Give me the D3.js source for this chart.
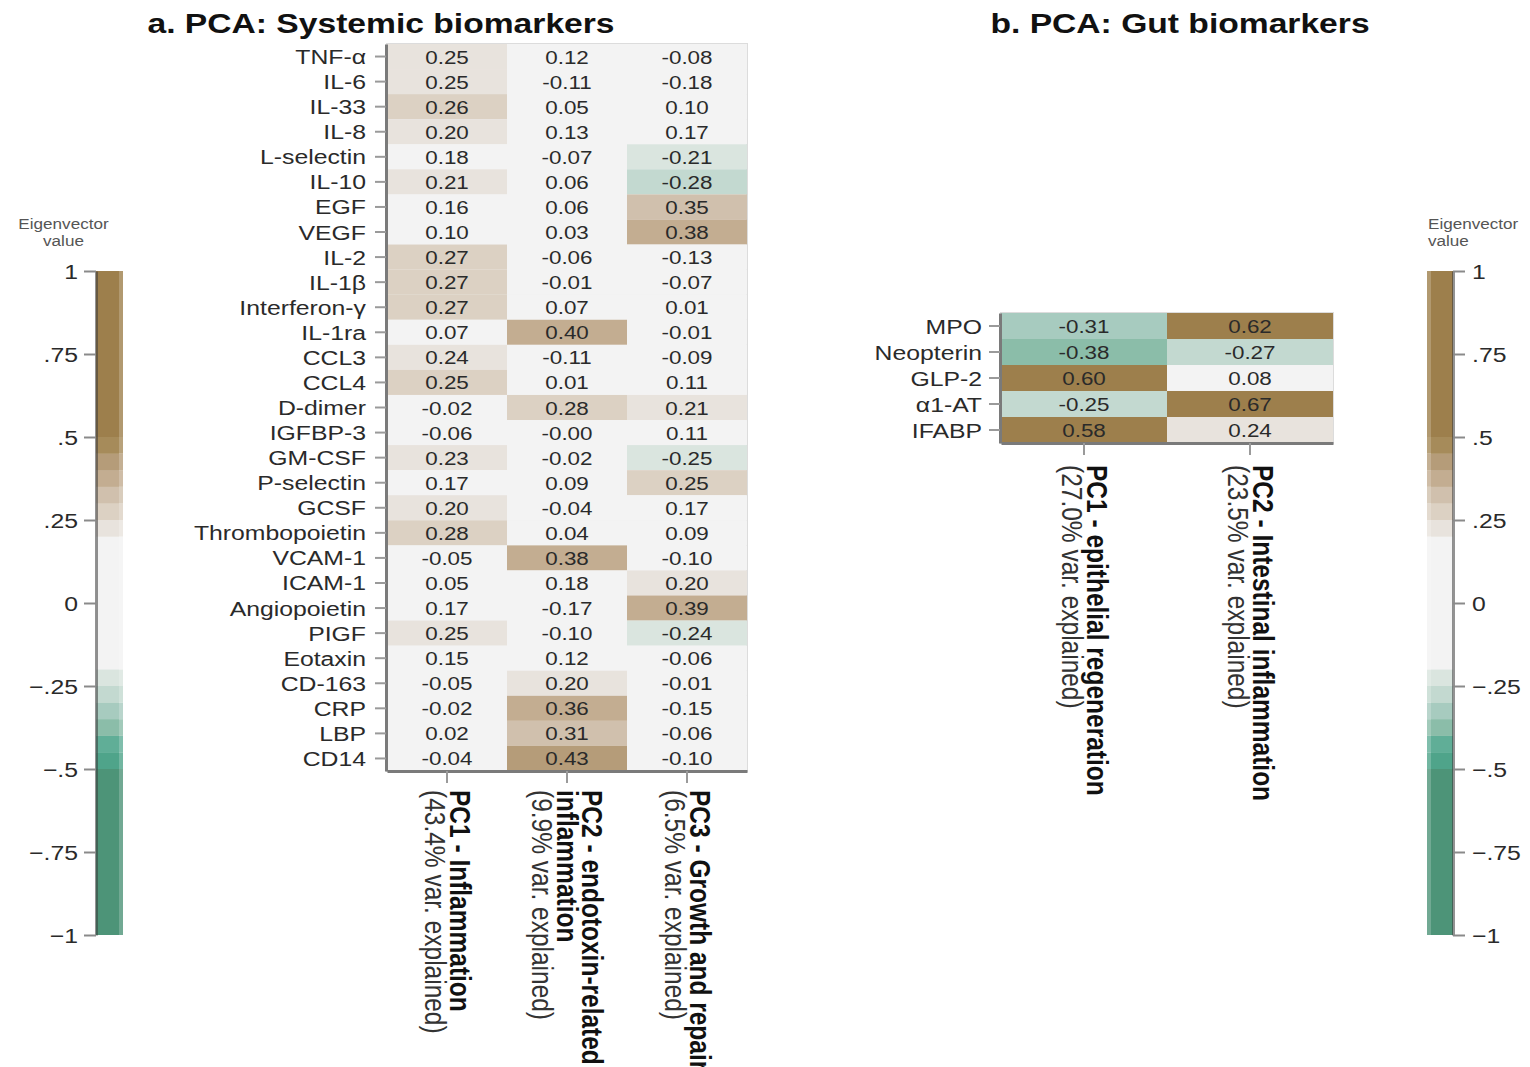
<!DOCTYPE html>
<html>
<head>
<meta charset="utf-8">
<script src="https://cdn.jsdelivr.net/npm/d3@7"></script>
<style>
  body { margin: 0; background: #fff; }
  text { font-family: "Liberation Sans", Arial, Helvetica, sans-serif; }
</style>
</head>
<body>
<svg id="chart" width="1530" height="1067"></svg>
<script>
// ---- Systemic biomarkers: PCA eigenvector loadings ----
const systemicMarkers = [
  "TNF-α", "IL-6", "IL-33", "IL-8", "L-selectin", "IL-10", "EGF", "VEGF",
  "IL-2", "IL-1β", "Interferon-γ", "IL-1ra", "CCL3", "CCL4", "D-dimer",
  "IGFBP-3", "GM-CSF", "P-selectin", "GCSF", "Thrombopoietin", "VCAM-1",
  "ICAM-1", "Angiopoietin", "PIGF", "Eotaxin", "CD-163", "CRP", "LBP", "CD14"
];
const systemicPC1 = [
  0.248, 0.247, 0.26, 0.20, 0.18, 0.21, 0.16, 0.10,
  0.27, 0.27, 0.27, 0.07, 0.24, 0.252, -0.02,
  -0.06, 0.23, 0.17, 0.20, 0.28, -0.05,
  0.05, 0.17, 0.246, 0.15, -0.05, -0.02, 0.02, -0.04
];
const systemicPC2 = [
  0.12, -0.11, 0.05, 0.13, -0.07, 0.06, 0.06, 0.03,
  -0.06, -0.01, 0.07, 0.398, -0.11, 0.01, 0.28,
  -0.001, -0.02, 0.09, -0.04, 0.04, 0.38,
  0.18, -0.17, -0.10, 0.12, 0.20, 0.36, 0.31, 0.43
];
const systemicPC3 = [
  -0.08, -0.18, 0.10, 0.17, -0.21, -0.28, 0.348, 0.38,
  -0.13, -0.07, 0.01, -0.01, -0.09, 0.11, 0.21,
  0.11, -0.25, 0.25, 0.17, 0.09, -0.10,
  0.20, 0.39, -0.24, -0.06, -0.01, -0.15, -0.06, -0.10
];
const systemicComponents = ["PC1", "PC2", "PC3"];
const systemicComponentLabels = [
  [["PC1 - Inflammation", true], ["(43.4% var. explained)", false]],
  [["PC2 - endotoxin-related", true], ["inflammation", true], ["(9.9% var. explained)", false]],
  [["PC3 - Growth and repair", true], ["(6.5% var. explained)", false]]
];

// ---- Gut biomarkers: PCA eigenvector loadings ----
const gutMarkers = ["MPO", "Neopterin", "GLP-2", "α1-AT", "IFABP"];
const gutPC1 = [-0.31, -0.38, 0.60, -0.252, 0.58];
const gutPC2 = [0.62, -0.27, 0.08, 0.67, 0.24];
const gutComponents = ["PC1", "PC2"];
const gutComponentLabels = [
  [["PC1 - epithelial regeneration", true], ["(27.0% var. explained)", false]],
  [["PC2 - Intestinal inflammation", true], ["(23.5% var. explained)", false]]
];

// ---- Colour key ----
const binEdges = [-0.5, -0.45, -0.4, -0.35, -0.3, -0.25, -0.2, 0.2, 0.25, 0.3, 0.35, 0.4, 0.45, 0.5];
const binColors = [
  "#4d9478", "#4fa48a", "#60ae97", "#8bbda9", "#a7cbbf", "#c3d9d0", "#dae5df",
  "#f3f3f3",
  "#e8e3dd", "#dcd1c3", "#d0c0ad", "#c3ad91", "#b59c79", "#a68b5a", "#9d7f4c"
];
const keyTicks = [-1, -0.75, -0.5, -0.25, 0, 0.25, 0.5, 0.75, 1];

const SX = 1.18; // horizontal glyph stretch used for all text
const svg = d3.select("#chart");
svg.append("rect").attr("width", 1530).attr("height", 1067).attr("fill", "#fff");

const color = d3.scaleThreshold().domain(binEdges).range(binColors);
const fmtVal = v => (v < 0 ? "-" : "") + Math.abs(v).toFixed(2);
const fmtKey = v => {
  if (v === 0) return "0";
  const s = String(Math.abs(v)).replace(/^0/, "");
  return (v < 0 ? "\u2212" : "") + s;
};

function label(parent, str, x, y, size, opts = {}) {
  return parent.append("text")
    .attr("transform", `translate(${x},${y}) scale(${SX},1)`)
    .attr("text-anchor", opts.anchor || "middle")
    .attr("font-size", size)
    .attr("font-weight", opts.bold ? "bold" : "normal")
    .attr("fill", opts.fill || "#222")
    .text(str);
}

function heatmap(cfg) {
  const { markers, comps, values, labels, x0, x1, y0, y1, labelOffset, textTop } = cfg;
  const x = d3.scaleBand().domain(comps).range([x0, x1]);
  const y = d3.scaleBand().domain(markers).range([y0, y1]);
  const g = svg.append("g");

  g.append("rect")
    .attr("x", x0).attr("y", y0).attr("width", x1 - x0).attr("height", y1 - y0)
    .attr("fill", "#f3f3f3").attr("stroke", "#dcdcdc").attr("stroke-width", 2);

  const cells = [];
  comps.forEach((c, ci) => markers.forEach((m, mi) => cells.push({ m, c, v: values[ci][mi] })));

  g.selectAll("rect.cell").data(cells).join("rect")
    .attr("class", "cell")
    .attr("x", d => x(d.c)).attr("y", d => y(d.m))
    .attr("width", x.bandwidth()).attr("height", y.bandwidth())
    .attr("fill", d => color(d.v));

  g.selectAll("text.val").data(cells).join("text")
    .attr("class", "val")
    .attr("transform", d => `translate(${x(d.c) + x.bandwidth() / 2},${y(d.m) + y.bandwidth() / 2 + 7}) scale(${SX},1)`)
    .attr("text-anchor", "middle")
    .attr("font-size", 19)
    .attr("fill", "#2a2a2a")
    .text(d => fmtVal(d.v));

  // y axis with marker names
  const ya = g.append("g")
    .attr("transform", `translate(${x0 - 1},0)`)
    .call(d3.axisLeft(y).tickSize(11).tickSizeOuter(0));
  ya.select(".domain").attr("stroke", "#7a7a7a").attr("stroke-width", 3);
  ya.selectAll(".tick line").attr("stroke", "#9a9a9a").attr("stroke-width", 2);
  ya.selectAll(".tick text")
    .attr("x", null).attr("dy", null)
    .attr("transform", `translate(${-labelOffset},7.5) scale(${SX},1)`)
    .attr("font-size", 21).attr("fill", "#2a2a2a");

  // x axis with rotated component names
  const xa = g.append("g")
    .attr("transform", `translate(0,${y1})`)
    .call(d3.axisBottom(x).tickSize(12).tickSizeOuter(0).tickFormat(""));
  xa.select(".domain").attr("stroke", "#7a7a7a").attr("stroke-width", 3);
  xa.selectAll(".tick line").attr("stroke", "#9a9a9a").attr("stroke-width", 2);

  comps.forEach((c, ci) => {
    const lines = labels[ci];
    const cx = x(c) + x.bandwidth() / 2;
    const n = lines.length;
    lines.forEach(([t, bold], i) => {
      const bodyX = cx + ((n - 1) / 2 - i) * 25;
      g.append("text")
        .attr("transform", `translate(${bodyX - 10},${textTop}) rotate(90) scale(1,${SX})`)
        .attr("text-anchor", "start")
        .attr("font-size", 24.5)
        .attr("font-weight", bold ? "bold" : "normal")
        .attr("fill", bold ? "#111" : "#333")
        .text(t);
    });
  });
}

function colorKey(cfg) {
  const { barX0, barX1, side } = cfg;
  const k = d3.scaleLinear().domain([-1, 1]).range([935, 271]);
  const g = svg.append("g");
  const bounds = [-1, ...binEdges, 1];
  const bins = binColors.map((col, i) => ({ lo: bounds[i], hi: bounds[i + 1], col }));

  g.selectAll("rect.bin").data(bins).join("rect")
    .attr("x", barX0).attr("width", barX1 - barX0)
    .attr("y", d => k(d.hi)).attr("height", d => k(d.lo) - k(d.hi))
    .attr("fill", d => d.col).attr("opacity", 0.8);
  const inner = side === "left" ? [barX0, barX1 - 4] : [barX0 + 4, barX1];
  g.selectAll("rect.core").data(bins).join("rect")
    .attr("x", inner[0]).attr("width", inner[1] - inner[0])
    .attr("y", d => k(d.hi)).attr("height", d => k(d.lo) - k(d.hi))
    .attr("fill", d => d.col);

  const axisX = side === "left" ? barX0 : barX1;
  const axis = side === "left" ? d3.axisLeft(k) : d3.axisRight(k);
  const ag = g.append("g")
    .attr("transform", `translate(${axisX},0)`)
    .call(axis.tickValues(keyTicks).tickFormat(fmtKey).tickSize(12).tickSizeOuter(0));
  ag.select(".domain").attr("stroke", "#3a3a3a").attr("stroke-opacity", 0.55).attr("stroke-width", 3);
  ag.selectAll(".tick line").attr("stroke", "#8a8a8a").attr("stroke-width", 2);
  ag.selectAll(".tick text")
    .attr("x", null).attr("dy", null)
    .attr("transform", side === "left" ? `translate(-18,7.5) scale(${SX},1)` : `translate(19,7.5) scale(${SX},1)`)
    .attr("text-anchor", side === "left" ? "end" : "start")
    .attr("font-size", 21).attr("fill", "#2a2a2a");

  const tx = side === "left" ? (barX0 + barX1) / 2 - 46 : barX0 + 1;
  const anchor = side === "left" ? "middle" : "start";
  label(g, "Eigenvector", tx, 229, 14.5, { anchor, fill: "#555" });
  label(g, "value", tx, 246, 14.5, { anchor, fill: "#555" });
}

// Panel titles
label(svg, "a. PCA: Systemic biomarkers", 381, 33, 28.5, { bold: true, fill: "#111" });
label(svg, "b. PCA: Gut biomarkers", 1180, 33, 28.5, { bold: true, fill: "#111" });

heatmap({
  markers: systemicMarkers,
  comps: systemicComponents,
  values: [systemicPC1, systemicPC2, systemicPC3],
  labels: systemicComponentLabels,
  x0: 387, x1: 747, y0: 44, y1: 771,
  labelOffset: 20,
  textTop: 790
});

heatmap({
  markers: gutMarkers,
  comps: gutComponents,
  values: [gutPC1, gutPC2],
  labels: gutComponentLabels,
  x0: 1001, x1: 1333, y0: 313, y1: 443,
  labelOffset: 18,
  textTop: 465
});

colorKey({ barX0: 96, barX1: 123, side: "left" });
colorKey({ barX0: 1427, barX1: 1453, side: "right" });
</script>
</body>
</html>
